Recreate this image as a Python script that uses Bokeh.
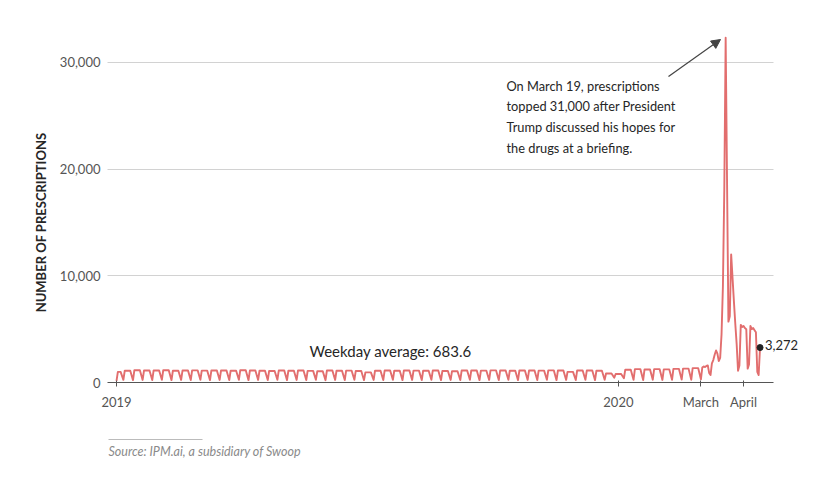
import numpy as np
import pandas as pd
from bokeh.plotting import figure
from bokeh.models import (FixedTicker, NumeralTickFormatter, Label, Arrow, NormalHead, Grid,
                          BoxAnnotation, ColumnDataSource, Range1d, CustomJSTickFormatter)
from bokeh.embed import file_html
from bokeh.resources import INLINE

# ---------------- data ----------------
series_start = "2019-01-01"
start_value = 150
week_starts = pd.date_range("2018-12-31", periods=61, freq="7D")
weekday_peak = [1000, 1100, 1150, 1120, 1130, 1150, 1100, 1120, 1140, 1110,
                1130, 1120, 1100, 1150, 1120, 1100, 1080, 1120, 1100, 1130,
                1090, 1050, 1120, 1100, 1110, 1080, 950, 1100, 1120, 1100,
                1130, 1110, 1100, 1120, 1080, 1060, 1120, 1130, 1110, 1140,
                1120, 1100, 1130, 1120, 1110, 1140, 1120, 1000, 1130, 1120,
                1100, 850, 800, 1200, 1250, 1220, 1250, 1230, 1280, 1300,
                1350]
weekend_dip = [250, 220, 240, 230, 250, 220, 240, 230, 250, 220,
               240, 230, 250, 220, 240, 230, 250, 220, 240, 230,
               250, 220, 240, 230, 250, 220, 240, 230, 250, 220,
               240, 230, 250, 220, 240, 230, 250, 220, 240, 230,
               250, 220, 240, 230, 250, 220, 240, 230, 250, 220,
               260, 450, 400, 250, 230, 260, 240, 250, 270, 260,
               300]
daily_dates = pd.date_range("2020-03-02", "2020-04-13")
daily_values = [1400, 1500, 1450, 1550, 1600, 900, 700,
                1800, 2100, 2600, 3000, 2700, 2000, 2300,
                4500, 9000, 18000, 32300, 19000, 5700, 6200,
                12000, 9800, 7600, 5500, 3600, 1100, 1600,
                5400, 5200, 5300, 5100, 5000, 1300, 1700,
                5300, 5000, 5100, 4900, 4700, 1000, 700,
                3272]
last_label = "3,272"
x_tick_dates = ["2019-01-01", "2020-01-01", "2020-03-01", "2020-04-01"]
x_tick_labels = ["2019", "2020", "March", "April"]
y_ticks = [0, 10000, 20000, 30000]
annotation_lines = ["On March 19, prescriptions",
                    "topped 31,000 after President",
                    "Trump discussed his hopes for",
                    "the drugs at a briefing."]
average_text = "Weekday average: 683.6"
y_title = "NUMBER OF PRESCRIPTIONS"
source_text = "Source: IPM.ai, a subsidiary of Swoop"

# ---------------- build table ----------------
t0 = pd.Timestamp(series_start)
xs, ys = [t0], [start_value]
for wk, pk, dp in zip(week_starts, weekday_peak, weekend_dip):
    mon = max(wk, t0 + pd.Timedelta(days=1))
    xs += [mon, wk + pd.Timedelta(days=4), wk + pd.Timedelta(days=6)]
    ys += [pk, pk, dp]
xs += list(daily_dates)
ys += list(daily_values)
src = ColumnDataSource(dict(x=xs, y=ys))

def ms(d):
    return pd.Timestamp(d).timestamp() * 1000.0

# ---------------- layout geometry ----------------
W, H = 799, 467
PX_LEFT, PX_RIGHT = 107, 773           # plotting area in canvas pixels
PX_ZERO, PX_TOP = 382, 34
t_a, t_b = ms("2018-12-25 11:00"), ms("2020-04-22 19:00")
y_top_val = 32600
mpp = (t_b - t_a) / (PX_RIGHT - PX_LEFT)
upp = y_top_val / (PX_ZERO - PX_TOP)
x_start, x_end = t_a - PX_LEFT * mpp, t_b + (W - PX_RIGHT) * mpp
y_start, y_end = -(H - PX_ZERO) * upp, y_top_val + PX_TOP * upp

def sy(img_y):
    return H - img_y

FONT = "Lato"
TXT = "#262626"
p = figure(width=W, height=H, output_backend="svg", toolbar_location=None,
           x_axis_type="datetime",
           x_range=Range1d(x_start, x_end), y_range=Range1d(y_start, y_end),
           min_border=0, min_border_left=0, min_border_right=0,
           min_border_top=0, min_border_bottom=0)
p.outline_line_color = None
p.background_fill_color = "white"
p.border_fill_color = "white"

# grid lines (horizontal, limited to the plotting area)
p.xgrid.visible = False
if "cross_bounds" in Grid.properties():
    p.ygrid.ticker = FixedTicker(ticks=y_ticks[1:])
    p.ygrid.cross_bounds = (t_a, t_b)
    p.ygrid.grid_line_color = "#d2d2d2"
    p.ygrid.grid_line_width = 1
else:
    p.ygrid.visible = False
    gt = y_ticks[1:]
    p.segment(x0=[t_a] * len(gt), x1=[t_b] * len(gt), y0=gt, y1=gt,
              line_color="#d2d2d2", line_width=1)

p.line(x="x", y="y", source=src, line_color="#e26e6e", line_width=1.9, line_join="round")
last_x, last_y = ms(daily_dates[-1]), daily_values[-1]
p.scatter(x=[last_x], y=[last_y], size=6, color="#222222")
p.add_layout(Label(x=last_x, y=last_y, text=last_label, x_offset=5, y_offset=3,
                   text_baseline="middle",
                   text_font=FONT, text_font_size="13px", text_color=TXT))

# axes
xa = p.xaxis[0]
xa.fixed_location = 0
xa.bounds = (t_a, t_b)
xa.ticker = FixedTicker(ticks=[ms(d) for d in x_tick_dates])
xa.formatter = CustomJSTickFormatter(args=dict(labels=x_tick_labels), code="return labels[index];")
xa.axis_line_color = "#555555"
xa.axis_line_width = 1.2
xa.major_tick_line_color = "#555555"
xa.major_tick_in = 2
xa.major_tick_out = 4
xa.minor_tick_line_color = None
xa.major_label_standoff = 7
xa.major_label_text_font = FONT
xa.major_label_text_font_size = "13px"
xa.major_label_text_color = "#555555"

ya = p.yaxis[0]
ya.fixed_location = t_a
ya.ticker = FixedTicker(ticks=y_ticks)
ya.formatter = NumeralTickFormatter(format="0,0")
ya.axis_line_color = None
ya.major_tick_line_color = None
ya.minor_tick_line_color = None
ya.major_tick_in = 0
ya.major_tick_out = 0
ya.major_label_standoff = 7
ya.major_label_text_font = FONT
ya.major_label_text_font_size = "13px"
ya.major_label_text_color = "#555555"

# texts
p.add_layout(Label(x=40, y=sy(222), x_units="screen", y_units="screen", text=y_title,
                   angle=np.pi / 2, text_align="center", text_baseline="middle",
                   text_font=FONT, text_font_size="13px", text_font_style="bold",
                   text_color=TXT))
for i, line in enumerate(annotation_lines):
    p.add_layout(Label(x=506, y=sy(85 + i * 20.7), x_units="screen", y_units="screen", text=line,
                       text_baseline="middle", text_font=FONT, text_font_size="12.8px",
                       text_color=TXT))
p.add_layout(Label(x=309, y=sy(350), x_units="screen", y_units="screen", text=average_text,
                   text_baseline="middle", text_font=FONT, text_font_size="15px",
                   text_color=TXT))
p.add_layout(Arrow(end=NormalHead(size=9, fill_color="#444444", line_color="#444444"),
                   x_start=668, y_start=sy(76), x_end=720, y_end=sy(39),
                   start_units="screen", end_units="screen",
                   line_color="#444444", line_width=1.2))
p.add_layout(BoxAnnotation(left=108, right=202, bottom=sy(439.5), top=sy(438.5),
                           left_units="screen", right_units="screen",
                           top_units="screen", bottom_units="screen",
                           fill_color="#bbbbbb", fill_alpha=1, line_color=None))
p.add_layout(Label(x=108, y=sy(451), x_units="screen", y_units="screen", text=source_text,
                   text_baseline="middle", text_font=FONT, text_font_size="12.5px",
                   text_font_style="italic", text_color="#8a8a8a"))

open("out.html", "w").write(file_html(p, INLINE))
